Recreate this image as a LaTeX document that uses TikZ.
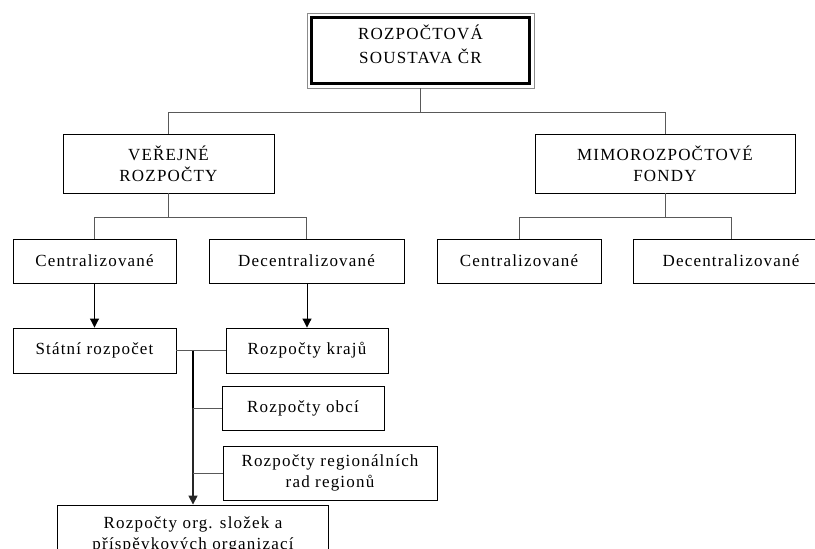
\documentclass[tikz,border=0pt]{standalone}
\usepackage{fontspec}
\setmainfont{Liberation Serif}[LetterSpace=7]
\usepackage{tikz}
\usetikzlibrary{arrows.meta}

\begin{document}
\begin{tikzpicture}[x=1pt, y=-1pt,
  box/.style={draw=black, line width=0.9pt, align=center, inner sep=0pt, font=\fontsize{17}{21}\selectfont},
  line/.style={draw=black!65, line width=1pt},
  arrow/.style={draw=black, line width=1pt, -{Triangle[length=9pt, width=9pt]}}]
\clip (0,0) rectangle (815,549);
\fill[white] (0,0) rectangle (815,549);

% boxes
\node[box, draw=black!45, line width=0.8pt, minimum width=227pt, minimum height=75pt, font=\fontsize{17}{24}\selectfont, text depth=13pt] (top) at (420.5,50.5) {ROZPOČTOVÁ\\SOUSTAVA ČR};
\draw[line width=3.2pt] ([shift={(5,5)}]top.north west) rectangle ([shift={(-5,-5)}]top.south east);
\node[box, minimum width=211pt, minimum height=59pt] (verejne) at (168.5,163.5) {VEŘEJNÉ\\ROZPOČTY};
\node[box, minimum width=260pt, minimum height=59pt] (mimo) at (665,163.5) {MIMOROZPOČTOVÉ\\FONDY};
\node[box, minimum width=163pt, minimum height=44pt] (cent1) at (94.5,261) {Centralizované};
\node[box, minimum width=195pt, minimum height=44pt] (decent1) at (306.5,261) {Decentralizované};
\node[box, minimum width=164pt, minimum height=44pt] (cent2) at (519,261) {Centralizované};
\node[box, minimum width=196pt, minimum height=44pt] (decent2) at (731,261) {Decentralizované};
\node[box, minimum width=163pt, minimum height=45pt] (statni) at (94.5,350.5) {Státní rozpočet};
\node[box, minimum width=162pt, minimum height=45pt] (kraje) at (307,350.5) {Rozpočty krajů};
\node[box, minimum width=162pt, minimum height=44pt] (obce) at (303,408) {Rozpočty obcí};
\node[box, minimum width=214pt, minimum height=54pt] (regiony) at (330,473) {Rozpočty regionálních\\rad regionů};
\node[box, minimum width=271pt, minimum height=59pt] (org) at (193,534.5) {Rozpočty org. složek a\\příspěvkových organizací};

% tree lines
\draw[line] (top.south) -- ++(0,24) coordinate (b0);
\draw[line] (verejne.north) |- (b0) -| (mimo.north);
\draw[line] (verejne.south) -- ++(0,24) coordinate (b1);
\draw[line] (cent1.north) |- (b1) -| (decent1.north);
\draw[line] (mimo.south) -- ++(0,24) coordinate (b2);
\draw[line] (cent2.north) |- (b2) -| (decent2.north);

% arrows
\draw[arrow] (cent1) -- (statni);
\draw[arrow] (decent1.south -| kraje.north) -- (kraje.north);
\draw[line] (statni.east) -- (kraje.west);
\draw[line width=2.2pt] (statni.east -| org.north) -- (obce.west -| org.north);
\draw[arrow, line width=1.6pt, draw=black!85] (obce.west -| org.north) -- (org.north);
\draw[line] (obce.west) -- (obce.west -| org.north);
\draw[line] (regiony.west) -- (regiony.west -| org.north);
\end{tikzpicture}
\end{document}
